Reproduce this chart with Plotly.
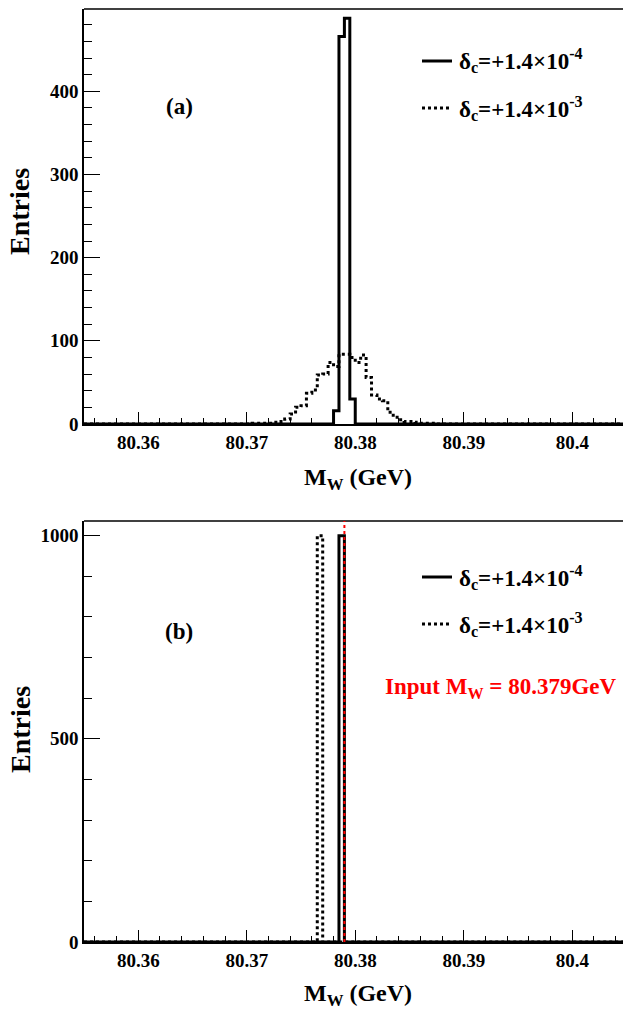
import plotly.graph_objects as go
from plotly.subplots import make_subplots

# ---------------- data ----------------
X_LO, X_HI_DRAW, N_BINS = 80.355, 80.405, 100
x_tick_vals = [80.36, 80.37, 80.38, 80.39, 80.40]
x_tick_text = ["80.36", "80.37", "80.38", "80.39", "80.4"]

# panel (a): counts per bin, starting at bin index given
a_solid_first = 46
a_solid_counts = [16, 466, 488, 30]
a_dot_first = 31
a_dot_counts = [1, 1, 1, 1, 2, 3, 6, 12, 20, 22, 37, 41, 59, 60, 74, 69,
                84, 84, 80, 74, 83, 56, 35, 30, 28, 14, 8, 5, 3, 3, 2, 1, 1, 1]

# panel (b)
b_solid_first = 47
b_solid_counts = [1000]
b_dot_first = 43
b_dot_counts = [1000]
input_mw = 80.379

a_ytick_vals = [0, 100, 200, 300, 400]
b_ytick_vals = [0, 500, 1000]
a_ymax = 499
b_ymax = 1036

legend_labels = ["δ<sub>c</sub>=+1.4×10<sup>-4</sup>", "δ<sub>c</sub>=+1.4×10<sup>-3</sup>"]

# ---------------- helpers ----------------
bw = (X_HI_DRAW - X_LO) / N_BINS
edges = [X_LO + i * bw for i in range(N_BINS + 1)]


def full(first, counts):
    vals = [0] * N_BINS
    for k, c in enumerate(counts):
        vals[first + k] = c
    return vals + [vals[-1]]


W, H = 623, 1013
ML, MR, MT, MB = 84, 0, 9, 71
PW = W - ML - MR
PH = H - MT - MB
px_per_x = 108.5 / 0.01
x_hi = X_LO + PW / px_per_x


def px(x):
    return (x - ML) / PW


def py(y):
    return (H - MB - y) / PH


top_dom = [py(424), 1.0]
bot_dom = [0.0, py(521)]

fig = make_subplots(rows=2, cols=1)
FONT = "Liberation Serif, Times New Roman, Times, serif"

for row, (sf, sc, df, dc) in enumerate([
        (a_solid_first, a_solid_counts, a_dot_first, a_dot_counts),
        (b_solid_first, b_solid_counts, b_dot_first, b_dot_counts)], start=1):
    fig.add_trace(go.Scatter(x=edges, y=full(df, dc), mode="lines", line_shape="hv",
                             line=dict(color="black", width=3, dash="dot"),
                             showlegend=False, hoverinfo="skip"), row=row, col=1)
    fig.add_trace(go.Scatter(x=edges, y=full(sf, sc), mode="lines", line_shape="hv",
                             line=dict(color="black", width=3),
                             showlegend=False, hoverinfo="skip"), row=row, col=1)

tickfont = dict(family=FONT, size=19, color="black", weight="bold")
for ax in ["xaxis", "xaxis2"]:
    fig.layout[ax].update(range=[X_LO, x_hi], tickvals=x_tick_vals, ticktext=x_tick_text,
                          ticks="inside", ticklen=12, tickwidth=1, tickcolor="black",
                          minor=dict(ticks="inside", ticklen=6, dtick=0.002, tick0=80.36,
                                     tickcolor="black", tickwidth=1),
                          showline=True, linecolor="black", linewidth=1.5,
                          showgrid=False, zeroline=False, tickfont=tickfont,
                          domain=[0, 1])
fig.layout.xaxis.update(anchor="y")
fig.layout.xaxis2.update(anchor="y2")
fig.layout.yaxis.update(domain=top_dom, range=[0, a_ymax], tickvals=a_ytick_vals,
                        minor=dict(ticks="inside", ticklen=8, dtick=20, tickcolor="black"))
fig.layout.yaxis2.update(domain=bot_dom, range=[0, b_ymax], tickvals=b_ytick_vals,
                         minor=dict(ticks="inside", ticklen=8, dtick=100, tickcolor="black"))
for ax in ["yaxis", "yaxis2"]:
    fig.layout[ax].update(ticks="inside", ticklen=16, tickwidth=1, tickcolor="black",
                          showline=True, linecolor="black", linewidth=1.5,
                          showgrid=False, zeroline=False, tickfont=tickfont)

shapes = []
for yr in ["y", "y2"]:
    xr = "x" if yr == "y" else "x2"
    shapes.append(dict(type="line", xref=xr + " domain", yref=yr + " domain",
                       x0=0, x1=1, y0=1, y1=1, line=dict(color="black", width=1.5)))
shapes.append(dict(type="line", xref="x2", yref="y2 domain", x0=input_mw, x1=input_mw,
                   y0=0, y1=1, line=dict(color="red", width=2, dash="dot")))

ann = []
for ty in [479, 995]:
    ann.append(dict(x=px(358), y=py(ty), xref="paper", yref="paper", showarrow=False,
                    text="M<sub>W</sub> (GeV)",
                    font=dict(family=FONT, size=24, color="black", weight="bold"),
                    xanchor="center", yanchor="middle"))
for ey in [212, 730]:
    ann.append(dict(x=px(20), y=py(ey), xref="paper", yref="paper", showarrow=False,
                    text="Entries", textangle=-90,
                    font=dict(family=FONT, size=28, color="black", weight="bold"),
                    xanchor="center", yanchor="middle"))
for lab, ly in [("(a)", 107), ("(b)", 631)]:
    ann.append(dict(x=px(179), y=py(ly), xref="paper", yref="paper", showarrow=False,
                    text=lab, font=dict(family=FONT, size=23, color="black", weight="bold"),
                    xanchor="center", yanchor="middle"))
legfont = dict(family=FONT, size=23, color="black", weight="bold")
for base in [0, 516]:
    for k, (lab, dash) in enumerate(zip(legend_labels, ["solid", "dot"])):
        yy = base + 61 + k * 47
        shapes.append(dict(type="line", xref="paper", yref="paper", x0=px(422), x1=px(452),
                           y0=py(yy), y1=py(yy), line=dict(color="black", width=3, dash=dash)))
        ann.append(dict(x=px(457), y=py(yy), xref="paper", yref="paper", showarrow=False,
                        text=lab, font=legfont, xanchor="left", yanchor="middle"))
ann.append(dict(x=px(619), y=py(688), xref="paper", yref="paper", showarrow=False,
                text="Input M<sub>W</sub> = 80.379GeV",
                font=dict(family=FONT, size=23, color="red", weight="bold"),
                xanchor="right", yanchor="middle"))

fig.update_layout(width=W, height=H, margin=dict(l=ML, r=MR, t=MT, b=MB),
                  plot_bgcolor="white", paper_bgcolor="white",
                  shapes=shapes, annotations=ann, showlegend=False)
fig.write_html("out.html")
